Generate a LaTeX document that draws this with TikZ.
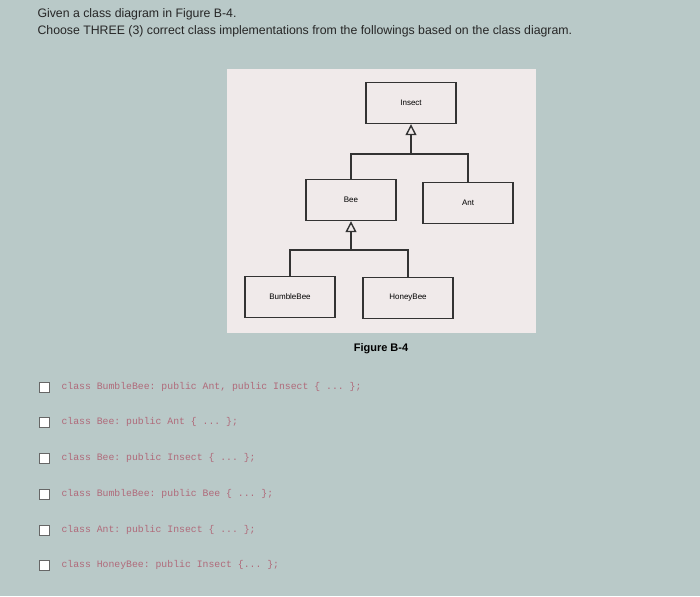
\documentclass[tikz,border=0pt]{standalone}
\usepackage{fontspec}
\setmainfont{Liberation Sans}
\setmonofont{Liberation Mono}
\usetikzlibrary{arrows.meta}
\definecolor{bg}{HTML}{B9C9C8}
\definecolor{panel}{HTML}{F0EAEA}
\definecolor{code}{HTML}{B06A7A}
\tikzset{
 cls/.style={draw=black!80, line width=1.4pt, minimum width=90pt, minimum height=41pt, inner sep=0pt, font=\fontsize{8}{9}\selectfont},
 gen/.style={line width=1.4pt, draw=black!80},
 opt/.style={anchor=west, font=\ttfamily\fontsize{9.8}{11}\selectfont, text=code},
 chk/.style={draw=black!60, fill=white, minimum size=10pt, inner sep=0pt, line width=1pt},
 head/.style={anchor=west, font=\fontsize{12.3}{14}\selectfont, text=black!85}
}
\begin{document}
\begin{tikzpicture}[x=1pt,y=-1pt]
\useasboundingbox (0,0) rectangle (700,596);
\fill[bg] (0,0) rectangle (700,596);
\fill[panel] (227,69) rectangle (536,333);
\node[head] (h1) at (34,14) {Given a class diagram in Figure B-4.};
\node[head] (h2) at (34,31) {Choose THREE (3) correct class implementations from the followings based on the class diagram.};
\node[cls] (insect) at (411,103) {Insect};
\node[cls] (bee) at (351,200) {Bee};
\node[cls] (ant) at (468,203) {Ant};
\node[cls] (bb) at (290,297) {BumbleBee};
\node[cls] (hb) at (408,298) {HoneyBee};
\coordinate (j1) at (411,154);
\coordinate (j2) at (351,250);
\draw[gen] (bee.north) |- (j1) -| (ant.north);
\draw[gen,-{Triangle[open,length=11pt,width=11pt]}] (j1) -- (insect.south);
\draw[gen] (bb.north) |- (j2) -| (hb.north);
\draw[gen,-{Triangle[open,length=11pt,width=11pt]}] (j2) -- (bee.south);
\node[font=\bfseries\fontsize{11}{13}\selectfont] (fig) at (381,349) {Figure B-4};
\foreach \y/\t [count=\i] in {387/{class BumbleBee: public Ant, public Insect \{ ... \};},
 422/{class Bee: public Ant \{ ... \};},
 458/{class Bee: public Insect \{ ... \};},
 494/{class BumbleBee: public Bee \{ ... \};},
 530/{class Ant: public Insect \{ ... \};},
 565/{class HoneyBee: public Insect \{... \};}}{
 \node[chk] (c\i) at (44,\y) {};
 \node[opt] (o\i) at (58,\y) {\t};
}
\end{tikzpicture}
\end{document}
